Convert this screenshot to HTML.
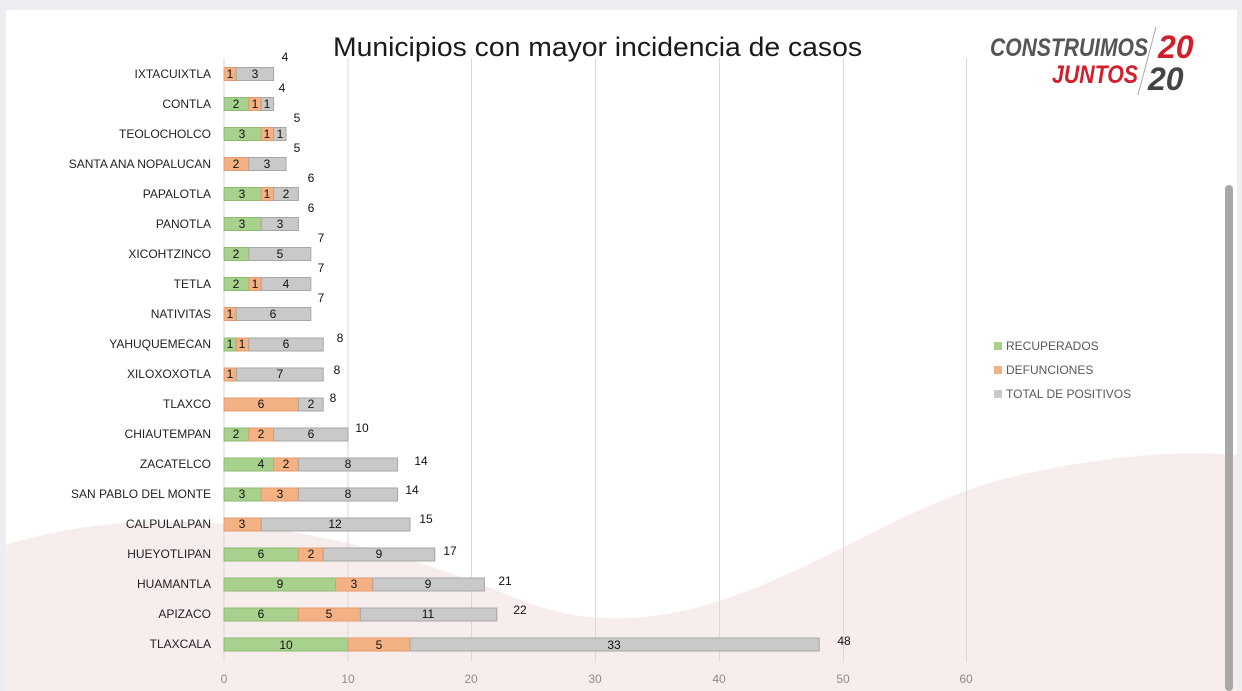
<!DOCTYPE html>
<html><head><meta charset="utf-8"><style>
html,body{margin:0;padding:0;background:#eeeff1;}
svg{display:block;font-family:"Liberation Sans",sans-serif;}
</style></head><body>
<svg width="1242" height="691" viewBox="0 0 1242 691" xmlns="http://www.w3.org/2000/svg">
<rect x="0" y="0" width="1242" height="691" fill="#eceef1"/>
<rect x="6" y="10" width="1231" height="681" fill="#ffffff"/>
<path d="M6,545 C150,500 330,520 520,600 C700,670 850,520 1000,480 C1100,455 1180,450 1237,455 L1237,691 L6,691 Z" fill="#f8eded"/>
<g stroke="#d9d9d9" stroke-width="1">
<line x1="348" y1="58" x2="348" y2="662"/><line x1="471.5" y1="58" x2="471.5" y2="662"/><line x1="595.5" y1="58" x2="595.5" y2="662"/><line x1="719.5" y1="58" x2="719.5" y2="662"/><line x1="843.5" y1="58" x2="843.5" y2="662"/><line x1="966.5" y1="58" x2="966.5" y2="662"/>
<line x1="224" y1="58" x2="224" y2="662"/>
</g>
<text x="333" y="56" font-size="27" fill="#1a1a1a" textLength="529" lengthAdjust="spacingAndGlyphs">Municipios con mayor incidencia de casos</text>
<g font-style="italic" font-weight="bold" font-size="25">
<text x="990" y="56" fill="#555" textLength="158" lengthAdjust="spacingAndGlyphs">CONSTRUIMOS</text>
<text x="1052" y="83" fill="#d0202e" textLength="86" lengthAdjust="spacingAndGlyphs">JUNTOS</text>
<text x="1158" y="58" fill="#d0202e" font-size="32">20</text>
<text x="1148" y="90" fill="#444" font-size="32">20</text>
<line x1="1156" y1="27" x2="1138" y2="95" stroke="#aaa" stroke-width="1"/>
</g>
<rect x="1225" y="185" width="8" height="506" rx="4" fill="#a8a8a8"/>
<g font-size="12" fill="#222">
<g text-anchor="end">
<text x="211" y="78">IXTACUIXTLA</text><text x="211" y="108">CONTLA</text><text x="211" y="138">TEOLOCHOLCO</text><text x="211" y="168">SANTA ANA NOPALUCAN</text><text x="211" y="198">PAPALOTLA</text><text x="211" y="228">PANOTLA</text><text x="211" y="258">XICOHTZINCO</text><text x="211" y="288">TETLA</text><text x="211" y="318">NATIVITAS</text><text x="211" y="348">YAHUQUEMECAN</text><text x="211" y="378">XILOXOXOTLA</text><text x="211" y="408">TLAXCO</text><text x="211" y="438">CHIAUTEMPAN</text><text x="211" y="468">ZACATELCO</text><text x="211" y="498">SAN PABLO DEL MONTE</text><text x="211" y="528">CALPULALPAN</text><text x="211" y="558">HUEYOTLIPAN</text><text x="211" y="588">HUAMANTLA</text><text x="211" y="618">APIZACO</text><text x="211" y="648">TLAXCALA</text>
</g>
</g>
<g stroke-width="1">
<g transform="translate(0,74)"><rect x="224" y="-6.5" width="12.4" height="13" fill="#f4b183" stroke="#e59a6c"/><rect x="236.4" y="-6.5" width="37.2" height="13" fill="#c9c9c9" stroke="#a6a6a6"/></g>
<g transform="translate(0,104)"><rect x="224" y="-6.5" width="24.8" height="13" fill="#a9d18e" stroke="#8dbb70"/><rect x="248.8" y="-6.5" width="12.4" height="13" fill="#f4b183" stroke="#e59a6c"/><rect x="261.2" y="-6.5" width="12.4" height="13" fill="#c9c9c9" stroke="#a6a6a6"/></g>
<g transform="translate(0,134)"><rect x="224" y="-6.5" width="37.2" height="13" fill="#a9d18e" stroke="#8dbb70"/><rect x="261.2" y="-6.5" width="12.4" height="13" fill="#f4b183" stroke="#e59a6c"/><rect x="273.6" y="-6.5" width="12.4" height="13" fill="#c9c9c9" stroke="#a6a6a6"/></g>
<g transform="translate(0,164)"><rect x="224" y="-6.5" width="24.8" height="13" fill="#f4b183" stroke="#e59a6c"/><rect x="248.8" y="-6.5" width="37.2" height="13" fill="#c9c9c9" stroke="#a6a6a6"/></g>
<g transform="translate(0,194)"><rect x="224" y="-6.5" width="37.2" height="13" fill="#a9d18e" stroke="#8dbb70"/><rect x="261.2" y="-6.5" width="12.4" height="13" fill="#f4b183" stroke="#e59a6c"/><rect x="273.6" y="-6.5" width="24.8" height="13" fill="#c9c9c9" stroke="#a6a6a6"/></g>
<g transform="translate(0,224)"><rect x="224" y="-6.5" width="37.2" height="13" fill="#a9d18e" stroke="#8dbb70"/><rect x="261.2" y="-6.5" width="37.2" height="13" fill="#c9c9c9" stroke="#a6a6a6"/></g>
<g transform="translate(0,254)"><rect x="224" y="-6.5" width="24.8" height="13" fill="#a9d18e" stroke="#8dbb70"/><rect x="248.8" y="-6.5" width="62" height="13" fill="#c9c9c9" stroke="#a6a6a6"/></g>
<g transform="translate(0,284)"><rect x="224" y="-6.5" width="24.8" height="13" fill="#a9d18e" stroke="#8dbb70"/><rect x="248.8" y="-6.5" width="12.4" height="13" fill="#f4b183" stroke="#e59a6c"/><rect x="261.2" y="-6.5" width="49.6" height="13" fill="#c9c9c9" stroke="#a6a6a6"/></g>
<g transform="translate(0,314)"><rect x="224" y="-6.5" width="12.4" height="13" fill="#f4b183" stroke="#e59a6c"/><rect x="236.4" y="-6.5" width="74.4" height="13" fill="#c9c9c9" stroke="#a6a6a6"/></g>
<g transform="translate(0,344.5)"><rect x="224" y="-6.5" width="12.4" height="13" fill="#a9d18e" stroke="#8dbb70"/><rect x="236.4" y="-6.5" width="12.4" height="13" fill="#f4b183" stroke="#e59a6c"/><rect x="248.8" y="-6.5" width="74.4" height="13" fill="#c9c9c9" stroke="#a6a6a6"/></g>
<g transform="translate(0,374.5)"><rect x="224" y="-6.5" width="12.4" height="13" fill="#f4b183" stroke="#e59a6c"/><rect x="236.4" y="-6.5" width="86.8" height="13" fill="#c9c9c9" stroke="#a6a6a6"/></g>
<g transform="translate(0,404.5)"><rect x="224" y="-6.5" width="74.4" height="13" fill="#f4b183" stroke="#e59a6c"/><rect x="298.4" y="-6.5" width="24.8" height="13" fill="#c9c9c9" stroke="#a6a6a6"/></g>
<g transform="translate(0,434.5)"><rect x="224" y="-6.5" width="24.8" height="13" fill="#a9d18e" stroke="#8dbb70"/><rect x="248.8" y="-6.5" width="24.8" height="13" fill="#f4b183" stroke="#e59a6c"/><rect x="273.6" y="-6.5" width="74.4" height="13" fill="#c9c9c9" stroke="#a6a6a6"/></g>
<g transform="translate(0,464.5)"><rect x="224" y="-6.5" width="49.6" height="13" fill="#a9d18e" stroke="#8dbb70"/><rect x="273.6" y="-6.5" width="24.8" height="13" fill="#f4b183" stroke="#e59a6c"/><rect x="298.4" y="-6.5" width="99.2" height="13" fill="#c9c9c9" stroke="#a6a6a6"/></g>
<g transform="translate(0,494.5)"><rect x="224" y="-6.5" width="37.2" height="13" fill="#a9d18e" stroke="#8dbb70"/><rect x="261.2" y="-6.5" width="37.2" height="13" fill="#f4b183" stroke="#e59a6c"/><rect x="298.4" y="-6.5" width="99.2" height="13" fill="#c9c9c9" stroke="#a6a6a6"/></g>
<g transform="translate(0,524.5)"><rect x="224" y="-6.5" width="37.2" height="13" fill="#f4b183" stroke="#e59a6c"/><rect x="261.2" y="-6.5" width="148.8" height="13" fill="#c9c9c9" stroke="#a6a6a6"/></g>
<g transform="translate(0,554.5)"><rect x="224" y="-6.5" width="74.4" height="13" fill="#a9d18e" stroke="#8dbb70"/><rect x="298.4" y="-6.5" width="24.8" height="13" fill="#f4b183" stroke="#e59a6c"/><rect x="323.2" y="-6.5" width="111.6" height="13" fill="#c9c9c9" stroke="#a6a6a6"/></g>
<g transform="translate(0,584.5)"><rect x="224" y="-6.5" width="111.6" height="13" fill="#a9d18e" stroke="#8dbb70"/><rect x="335.6" y="-6.5" width="37.2" height="13" fill="#f4b183" stroke="#e59a6c"/><rect x="372.8" y="-6.5" width="111.6" height="13" fill="#c9c9c9" stroke="#a6a6a6"/></g>
<g transform="translate(0,614.5)"><rect x="224" y="-6.5" width="74.4" height="13" fill="#a9d18e" stroke="#8dbb70"/><rect x="298.4" y="-6.5" width="62" height="13" fill="#f4b183" stroke="#e59a6c"/><rect x="360.4" y="-6.5" width="136.4" height="13" fill="#c9c9c9" stroke="#a6a6a6"/></g>
<g transform="translate(0,644.5)"><rect x="224" y="-6.5" width="124" height="13" fill="#a9d18e" stroke="#8dbb70"/><rect x="348" y="-6.5" width="62" height="13" fill="#f4b183" stroke="#e59a6c"/><rect x="410" y="-6.5" width="409.2" height="13" fill="#c9c9c9" stroke="#a6a6a6"/></g>
</g>
<g font-size="12" fill="#111" text-anchor="middle">
<text x="230" y="78">1</text><text x="255" y="78">3</text><text x="285" y="61">4</text>
<text x="236" y="108">2</text><text x="255" y="108">1</text><text x="267" y="108">1</text><text x="282" y="92">4</text>
<text x="242" y="138">3</text><text x="267" y="138">1</text><text x="280" y="138">1</text><text x="297" y="122">5</text>
<text x="236" y="168">2</text><text x="267" y="168">3</text><text x="297" y="152">5</text>
<text x="242" y="198">3</text><text x="267" y="198">1</text><text x="286" y="198">2</text><text x="311" y="182">6</text>
<text x="242" y="228">3</text><text x="280" y="228">3</text><text x="311" y="212">6</text>
<text x="236" y="258">2</text><text x="280" y="258">5</text><text x="321" y="242">7</text>
<text x="236" y="288">2</text><text x="255" y="288">1</text><text x="286" y="288">4</text><text x="321" y="272">7</text>
<text x="230" y="318">1</text><text x="273" y="318">6</text><text x="321" y="302">7</text>
<text x="230" y="348">1</text><text x="242" y="348">1</text><text x="286" y="348">6</text><text x="340" y="342">8</text>
<text x="230" y="378">1</text><text x="280" y="378">7</text><text x="337" y="374">8</text>
<text x="261" y="408">6</text><text x="311" y="408">2</text><text x="333" y="402">8</text>
<text x="236" y="438">2</text><text x="261" y="438">2</text><text x="311" y="438">6</text><text x="362" y="432">10</text>
<text x="261" y="468">4</text><text x="286" y="468">2</text><text x="348" y="468">8</text><text x="421" y="465">14</text>
<text x="242" y="498">3</text><text x="280" y="498">3</text><text x="348" y="498">8</text><text x="412" y="494">14</text>
<text x="242" y="528">3</text><text x="335" y="528">12</text><text x="426" y="523">15</text>
<text x="261" y="558">6</text><text x="311" y="558">2</text><text x="379" y="558">9</text><text x="450" y="555">17</text>
<text x="280" y="588">9</text><text x="354" y="588">3</text><text x="428" y="588">9</text><text x="505" y="585">21</text>
<text x="261" y="618">6</text><text x="329" y="618">5</text><text x="428" y="618">11</text><text x="520" y="614">22</text>
<text x="286" y="649">10</text><text x="379" y="649">5</text><text x="614" y="649">33</text><text x="844" y="645">48</text>
</g>
<g font-size="12" fill="#8c8c8c" text-anchor="middle">
<text x="224" y="683">0</text><text x="348" y="683">10</text><text x="471" y="683">20</text><text x="595" y="683">30</text><text x="719" y="683">40</text><text x="843" y="683">50</text><text x="966" y="683">60</text>
</g>
<g font-size="12" fill="#595959">
<rect x="994" y="342" width="8" height="8" fill="#a9d18e"/><text x="1006" y="350">RECUPERADOS</text>
<rect x="994" y="366" width="8" height="8" fill="#f4b183"/><text x="1006" y="374">DEFUNCIONES</text>
<rect x="994" y="390" width="8" height="8" fill="#c9c9c9"/><text x="1006" y="398">TOTAL DE POSITIVOS</text>
</g>
</svg>
</body></html>
